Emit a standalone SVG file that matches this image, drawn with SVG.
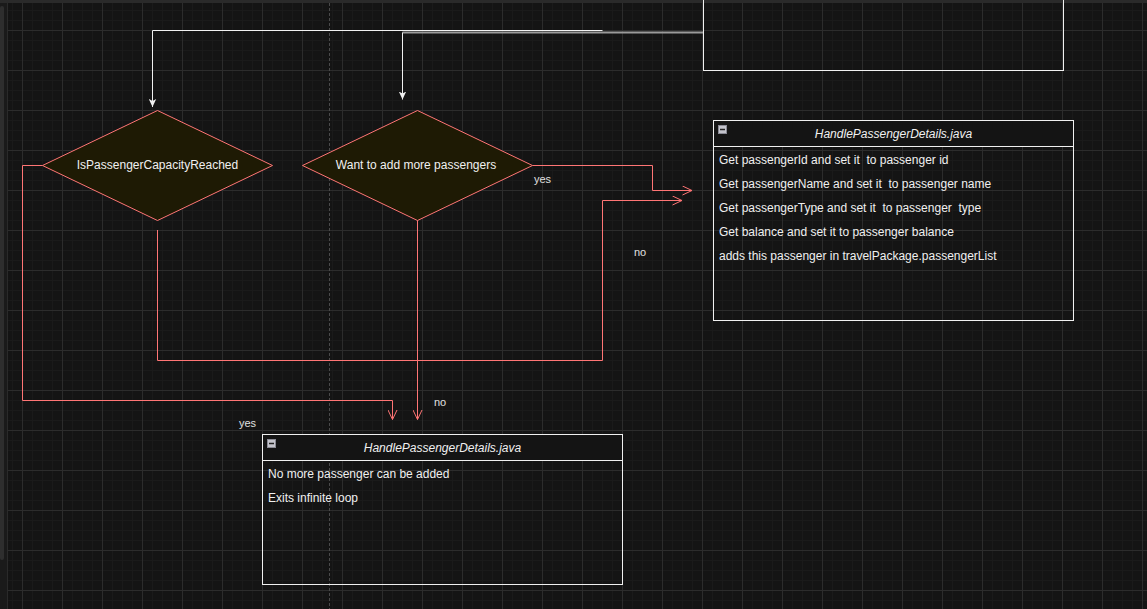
<svg xmlns="http://www.w3.org/2000/svg" width="1147" height="609" viewBox="0 0 1147 609">
<defs>
<pattern id="grid" patternUnits="userSpaceOnUse" x="22" y="30" width="40" height="40">
<rect width="40" height="40" fill="#141414"/>
<path d="M10.5,0V40M20.5,0V40M30.5,0V40M0,10.5H40M0,20.5H40M0,30.5H40" stroke="#1a1a1a" stroke-width="1" fill="none"/>
<path d="M0.5,0V40M0,0.5H40" stroke="#2c2c2c" stroke-width="1" fill="none"/>
</pattern>
<marker id="openRed" viewBox="0 0 10 10" refX="10" refY="5" markerWidth="10" markerHeight="10" markerUnits="userSpaceOnUse" orient="auto">
<path d="M0.5,0.5 L10,5 L0.5,9.5" fill="none" stroke="#ff7575" stroke-width="1"/>
</marker>
<marker id="classicWhite" viewBox="0 0 8 8" refX="8" refY="4" markerWidth="8" markerHeight="8" markerUnits="userSpaceOnUse" orient="auto">
<path d="M0,0.3 L8,4 L0,7.7 L2,4 Z" fill="#f0f0f0"/>
</marker>
</defs>
<style>
text{font-family:"Liberation Sans",Arial,Helvetica,sans-serif;fill:#f0f0f0;white-space:pre}
.dia{fill:#1e1a04;stroke:#ff7575;stroke-width:1}
.dt{font-size:12px;text-anchor:middle;dominant-baseline:central}
.box{fill:none;stroke:#f0f0f0;stroke-width:1}
.hdr{fill:#141414;stroke:#f0f0f0;stroke-width:1}
.title{font-size:12px;font-style:italic;text-anchor:middle;dominant-baseline:central}
.row{font-size:12px;dominant-baseline:central}
.red{fill:none;stroke:#ff7575;stroke-width:1;marker-end:url(#openRed)}
.wht{fill:none;stroke:#f0f0f0;stroke-width:1}
.lbl{font-size:11px;fill:#e0e0e0}
.icon{fill:#c4c4cc;stroke:#8a8a94;stroke-width:1}
</style>
<rect width="1147" height="609" fill="url(#grid)"/>
<rect x="0" y="0" width="1147" height="3" fill="#2a2a2a"/>
<rect x="0" y="3" width="7" height="606" fill="#1a1a1a"/>
<rect x="0" y="6" width="4" height="554" rx="2" fill="#2e2e2e"/>
<line x1="7.5" y1="3" x2="7.5" y2="609" stroke="#2a2a2a"/>
<line x1="329.5" y1="3" x2="329.5" y2="609" stroke="#4a4a4a" stroke-dasharray="3 2"/>

<g id="connectors">
<path class="wht" d="M602.5,30.5 H152.5 V107" marker-end="url(#classicWhite)"/>
<path d="M703,32.5 H402.5" fill="none" stroke="#9a9a9a" stroke-width="2"/>
<path class="wht" d="M402.5,32.5 V99.5" marker-end="url(#classicWhite)"/>
<path class="red" d="M532.5,165.5 H652.5 V190.5 H692"/>
<path class="red" d="M157.5,230 V360.5 H602.5 V200.5 H682"/>
<path class="red" d="M417.5,220 V419.5"/>
<path class="red" d="M42.5,165.5 H22.5 V400.5 H392.5 V419.5"/>
<text class="lbl" x="534" y="183">yes</text>
<text class="lbl" x="634" y="255.5">no</text>
<text class="lbl" x="434" y="405.5">no</text>
<text class="lbl" x="239" y="427">yes</text>
</g>

<g id="top-box">
<rect class="box" x="703.5" y="-50" width="360" height="120.5"/>
</g>

<g id="capacity-diamond">
<polygon class="dia" points="157.5,110.5 272.5,165.5 157.5,220.5 42.5,165.5"/>
<text class="dt" x="157.5" y="165">IsPassengerCapacityReached</text>
</g>

<g id="more-diamond">
<polygon class="dia" points="417.5,110.5 532.5,165.5 417.5,220.5 302.5,165.5"/>
<text class="dt" x="416" y="165">Want to add more passengers</text>
</g>

<g id="handle-details-right">
<rect class="box" x="713.5" y="120.5" width="360" height="200"/>
<rect class="hdr" x="713.5" y="120.5" width="360" height="26"/>
<rect class="icon" x="718.5" y="125.5" width="8" height="8"/>
<line x1="720" y1="129.5" x2="725" y2="129.5" stroke="#222" stroke-width="1.5"/>
<text class="title" x="893.5" y="134">HandlePassengerDetails.java</text>
<text class="row" x="719" y="160">Get passengerId and set it  to passenger id</text>
<text class="row" x="719" y="184">Get passengerName and set it  to passenger name</text>
<text class="row" x="719" y="208">Get passengerType and set it  to passenger  type</text>
<text class="row" x="719" y="232">Get balance and set it to passenger balance</text>
<text class="row" x="719" y="256">adds this passenger in travelPackage.passengerList</text>
</g>

<g id="handle-details-bottom">
<rect class="box" x="262.5" y="434.5" width="360" height="150"/>
<rect class="hdr" x="262.5" y="434.5" width="360" height="26"/>
<rect class="icon" x="267.5" y="439.5" width="8" height="8"/>
<line x1="269" y1="443.5" x2="274" y2="443.5" stroke="#222" stroke-width="1.5"/>
<text class="title" x="442.5" y="448">HandlePassengerDetails.java</text>
<text class="row" x="268" y="474">No more passenger can be added</text>
<text class="row" x="268" y="498">Exits infinite loop</text>
</g>
</svg>
